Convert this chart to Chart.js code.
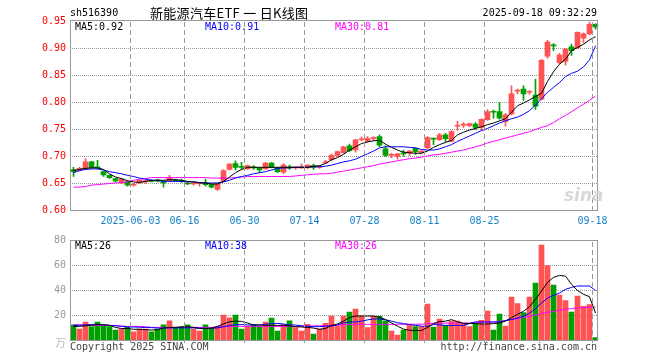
<!DOCTYPE html>
<html>
<head>
<meta charset="utf-8">
<script src="https://cdn.jsdelivr.net/npm/chart.js@4.4.1/dist/chart.umd.min.js"></script>
<style>
body { margin: 0; background: #fff; }
#wrap { position: relative; width: 660px; height: 360px; overflow: hidden; font-family: 'DejaVu Sans Mono', monospace; font-size: 10px; }
canvas { position: absolute; left: 0; }
.t { position: absolute; white-space: pre; line-height: 12px; }
</style>
</head>
<body>
<div id="wrap">
  <canvas id="kline" width="660" height="230" style="top:0"></canvas>
  <canvas id="vol" width="660" height="130" style="top:230px"></canvas>
  <div class="t" style="left:70px;top:7px">sh516390</div>
  <div class="t" style="left:150px;top:5px;font-family:'Noto Sans CJK SC';font-size:13px;line-height:15px;letter-spacing:0.3px">新能源汽车ETF 一 日K线图</div>
  <div class="t" style="right:63px;top:7px">2025-09-18 09:32:29</div>
  <div class="t" style="left:75px;top:21px">MA5:0.92</div>
  <div class="t" style="left:205px;top:21px;color:#0000ff">MA10:0.91</div>
  <div class="t" style="left:335px;top:21px;color:#ff00ff">MA30:0.81</div>
  <div class="t" style="left:75px;top:240px">MA5:26</div>
  <div class="t" style="left:205px;top:240px;color:#0000ff">MA10:38</div>
  <div class="t" style="left:335px;top:240px;color:#ff00ff">MA30:26</div>
  <div class="t" style="right:594px;top:336px;color:#bbb;font-family:'Noto Sans CJK SC';font-size:11px">万</div>
  <div class="t" style="left:70px;top:341px;color:#444">Copyright 2025 SINA.COM</div>
  <div class="t" style="right:63px;top:341px;color:#444">http://finance.sina.com.cn</div>
  <div class="t" style="left:564px;top:185px;color:#d8d8d8;font-family:'DejaVu Sans';font-size:17px;font-weight:bold;font-style:italic;line-height:20px">sina</div>
</div>
<script>
const dates = ['2025-05-19','2025-05-20','2025-05-21','2025-05-22','2025-05-23','2025-05-26','2025-05-27','2025-05-28','2025-05-29','2025-05-30',
  '2025-06-03','2025-06-04','2025-06-05','2025-06-06','2025-06-09','2025-06-10','2025-06-11','2025-06-12','2025-06-13','2025-06-16',
  '2025-06-17','2025-06-18','2025-06-19','2025-06-20','2025-06-23','2025-06-24','2025-06-25','2025-06-26','2025-06-27','2025-06-30',
  '2025-07-01','2025-07-02','2025-07-03','2025-07-04','2025-07-07','2025-07-08','2025-07-09','2025-07-10','2025-07-11','2025-07-14',
  '2025-07-15','2025-07-16','2025-07-17','2025-07-18','2025-07-21','2025-07-22','2025-07-23','2025-07-24','2025-07-25','2025-07-28',
  '2025-07-29','2025-07-30','2025-07-31','2025-08-01','2025-08-04','2025-08-05','2025-08-06','2025-08-07','2025-08-08','2025-08-11',
  '2025-08-12','2025-08-13','2025-08-14','2025-08-15','2025-08-18','2025-08-19','2025-08-20','2025-08-21','2025-08-22','2025-08-25',
  '2025-08-26','2025-08-27','2025-08-28','2025-08-29','2025-09-01','2025-09-02','2025-09-03','2025-09-04','2025-09-05','2025-09-08',
  '2025-09-09','2025-09-10','2025-09-11','2025-09-12','2025-09-15','2025-09-16','2025-09-17','2025-09-18'];

const tickDates = ['2025-06-03','2025-06-16','2025-06-30','2025-07-14','2025-07-28','2025-08-11','2025-08-25','2025-09-18'];
const tickLabels = ['2025-06-03','06-16','06-30','07-14','07-28','08-11','08-25','09-18'];
const priceTicks = [0.60, 0.65, 0.70, 0.75, 0.80, 0.85, 0.90, 0.95];
const volTicks = [0, 20, 40, 60, 80];

const opens = [.676,.675,.678,.690,.681,.672,.665,.659,.651,.653,
  .647,.651,.653,.656,.656,.654,.655,.657,.656,.651,
  .649,.650,.651,.648,.639,.654,.676,.687,.681,.677,
  .680,.679,.677,.688,.679,.671,.680,.679,.679,.679,
  .683,.680,.688,.694,.702,.707,.720,.712,.731,.728,
  .733,.737,.714,.702,.700,.706,.706,.715,.707,.716,
  .734,.731,.740,.728,.756,.758,.757,.760,.754,.768,
  .783,.783,.765,.779,.821,.825,.819,.814,.806,.886,
  .906,.874,.876,.903,.901,.919,.927,.945];
const closes = [.672,.678,.690,.680,.679,.666,.661,.655,.658,.647,
  .648,.656,.654,.654,.655,.651,.661,.655,.654,.649,
  .650,.651,.648,.643,.650,.674,.686,.680,.680,.683,
  .679,.675,.688,.680,.672,.684,.679,.680,.680,.684,
  .680,.681,.690,.702,.709,.718,.711,.731,.732,.733,
  .734,.721,.702,.703,.705,.705,.710,.709,.710,.735,
  .732,.740,.733,.746,.757,.759,.761,.754,.769,.783,
  .782,.771,.777,.816,.822,.816,.820,.793,.878,.912,
  .905,.888,.899,.896,.930,.927,.945,.940];
const highs = [.680,.680,.696,.691,.693,.673,.666,.660,.660,.655,
  .650,.657,.656,.657,.658,.656,.665,.658,.658,.652,
  .652,.652,.658,.649,.651,.676,.687,.692,.689,.684,
  .683,.680,.689,.689,.680,.687,.684,.681,.686,.685,
  .686,.683,.693,.705,.710,.719,.723,.732,.736,.737,
  .737,.740,.720,.706,.706,.712,.711,.716,.711,.737,
  .734,.743,.743,.748,.765,.763,.762,.763,.770,.787,
  .786,.800,.780,.831,.825,.831,.822,.843,.880,.915,
  .909,.891,.900,.908,.931,.929,.949,.946];
const lows = [.663,.673,.677,.678,.677,.663,.659,.653,.650,.645,
  .645,.650,.650,.653,.653,.643,.654,.654,.652,.648,
  .647,.645,.645,.642,.637,.653,.675,.675,.676,.676,
  .676,.670,.676,.679,.670,.668,.676,.676,.678,.678,
  .676,.678,.687,.692,.700,.706,.709,.708,.729,.727,
  .730,.718,.700,.698,.695,.700,.702,.704,.706,.715,
  .722,.730,.727,.727,.749,.754,.755,.750,.749,.767,
  .771,.769,.756,.777,.816,.804,.815,.787,.805,.882,
  .896,.872,.869,.887,.900,.911,.925,.936];

const ma5 = [.674,.676,.678,.679,.679,.676,.668,.662,.659,.655,
  .653,.652,.654,.656,.656,.656,.657,.657,.656,.654,
  .653,.651,.651,.649,.649,.654,.662,.670,.676,.680,
  .680,.680,.680,.680,.680,.680,.680,.680,.680,.680,
  .682,.683,.687,.694,.698,.704,.712,.718,.724,.727,
  .729,.730,.723,.717,.712,.708,.707,.706,.706,.710,
  .717,.722,.726,.730,.740,.745,.749,.752,.755,.759,
  .762,.766,.770,.782,.794,.799,.805,.811,.817,.839,
  .857,.871,.880,.896,.902,.908,.916,.922];
const ma10 = [.670,.674,.676,.677,.677,.675,.672,.670,.668,.665,
  .663,.660,.658,.656,.655,.654,.654,.654,.654,.653,
  .653,.652,.651,.651,.651,.653,.656,.660,.663,.665,
  .668,.670,.672,.675,.678,.679,.679,.680,.680,.680,
  .681,.681,.682,.684,.687,.690,.692,.695,.700,.705,
  .710,.716,.718,.718,.718,.718,.717,.716,.713,.712,
  .712,.714,.718,.722,.728,.733,.738,.743,.748,.752,
  .757,.762,.766,.770,.773,.778,.785,.795,.807,.819,
  .828,.837,.848,.854,.858,.866,.879,.905];
const ma30 = [.6433,.6433,.6445,.647,.648,.649,.650,.651,.652,.653,
  .656,.658,.659,.661,.661,.661,.661,.661,.661,.661,
  .661,.661,.661,.660,.660,.660,.660,.661,.662,.663,
  .663,.663,.663,.663,.663,.663,.663,.664,.665,.666,
  .667,.668,.668,.669,.671,.673,.675,.677,.679,.681,
  .683,.686,.688,.690,.692,.694,.696,.697,.699,.701,
  .703,.704,.706,.708,.710,.712,.715,.718,.721,.725,
  .728,.731,.734,.737,.740,.743,.746,.750,.754,.757,
  .763,.770,.776,.783,.790,.797,.804,.812];

const volume = [12.5,9.2,14.8,11.1,14.8,12.0,11.1,8.4,9.2,11.1,
  7.0,9.2,9.2,7.0,9.2,12.5,15.8,10.3,11.1,12.5,
  9.2,7.6,12.5,10.3,11.2,20.4,18.2,20.4,9.2,11.5,
  12.7,11.1,14.8,18.0,7.6,12.7,15.8,10.3,7.6,13.0,
  5.2,9.2,13.7,19.6,11.6,19.6,22.8,25.2,19.6,10.3,
  19.3,19.3,15.6,7.6,4.4,8.4,12.1,11.1,11.1,29.2,
  10.8,17.2,12.1,15.6,15.6,13.7,11.1,13.7,16.1,23.6,
  8.4,21.2,11.6,34.8,29.5,22.3,34.8,46.0,76.4,59.9,
  44.4,36.4,31.9,22.8,35.6,27.3,28.7,2.3];
const volMa5 = [11.3,11.3,11.8,12.3,12.7,12.7,12.2,10.5,9.6,9.6,
  9.0,9.0,8.7,8.4,8.6,10.0,10.5,10.5,10.8,11.1,
  10.5,9.6,9.6,9.8,11.3,13.3,15.0,15.5,15.3,14.0,
  12.4,12.4,12.2,12.1,12.1,12.1,11.6,11.1,10.8,10.5,
  10.0,9.0,9.6,12.1,13.2,15.5,18.3,19.6,19.6,19.6,
  19.6,18.5,16.8,14.0,11.5,9.1,8.2,8.0,8.0,10.5,
  13.5,15.1,15.5,16.7,15.0,13.8,13.7,13.5,13.2,13.2,
  13.5,14.0,15.5,18.3,20.9,23.4,27.0,33.0,39.5,46.5,
  50.5,52.1,51.5,45.0,40.0,37.0,35.0,22.0];
const volMa10 = [12.0,12.2,12.5,12.8,12.9,12.5,12.0,11.8,11.3,10.8,
  10.8,10.6,10.4,10.3,10.0,9.8,10.1,10.1,10.1,10.1,
  10.1,10.0,9.7,9.8,10.1,11.0,12.0,12.7,12.7,12.5,
  12.4,12.4,13.0,13.5,13.7,13.2,12.5,12.4,11.8,11.3,
  11.1,11.1,11.5,11.6,12.5,14.0,14.8,14.8,15.5,16.5,
  17.2,17.2,16.5,15.5,14.3,13.5,12.8,12.1,11.5,11.3,
  12.8,12.5,12.1,12.1,12.1,12.1,13.5,14.8,14.8,14.8,
  14.8,14.8,16.0,16.8,18.0,19.5,21.7,25.5,30.0,34.0,
  36.1,38.0,40.9,42.5,43.6,43.6,43.6,40.0];
const volMa30 = [12.7,12.5,12.3,12.1,12.1,12.1,12.1,12.1,11.6,11.3,
  11.3,11.3,11.0,10.5,10.5,10.5,10.5,10.5,10.5,10.5,
  10.5,10.5,10.5,10.5,10.8,11.3,11.3,11.3,11.3,11.3,
  11.3,11.3,11.3,11.3,11.3,11.3,11.3,11.3,11.4,11.5,
  11.7,11.8,12.0,12.1,12.3,12.5,12.7,12.9,12.9,12.9,
  12.9,12.9,12.9,12.9,13.0,13.0,13.0,13.0,13.0,13.5,
  13.9,13.9,13.9,13.9,13.9,13.9,13.9,14.8,14.8,14.8,
  14.8,15.3,16.0,16.8,17.5,18.3,19.3,20.5,21.5,22.5,
  23.3,24.2,25.0,25.5,26.0,26.3,26.7,26.8];

const RED = '#ff5353';
const GREEN = '#00a000';
const GRID = '#999999';
const candleColors = closes.map((c, i) => c >= opens[i] ? RED : GREEN);
const monoFont = { family: 'DejaVu Sans Mono', size: 10 };

// dotted value lines under the marks, dashed date lines drawn at the end
const gridLines = {
  id: 'gridLines',
  beforeDatasetsDraw(chart, args, opts) {
    const ctx = chart.ctx;
    const ys = chart.scales.y;
    ctx.save();
    ctx.fillStyle = GRID;
    opts.values.forEach(v => {
      const y = Math.floor(ys.getPixelForValue(v));
      for (let x = 72; x < 597; x += 2) ctx.fillRect(x, y, 1, 1);
    });
    ctx.restore();
  },
  afterDraw(chart) {
    const ctx = chart.ctx, a = chart.chartArea;
    const xs = chart.scales.x;
    const top = Math.ceil(a.top), bottom = Math.floor(a.bottom);
    ctx.save();
    ctx.fillStyle = GRID;
    for (let k = 0; k < tickDates.length; k++) {
      const i = dates.indexOf(tickDates[k]);
      const x = Math.floor(xs.getPixelForValue(i) - 3);
      for (let y = top + 1; y < bottom; y += 8) {
        ctx.fillRect(x, y, 1, 5);
      }
    }
    ctx.restore();
  }
};

// gray frame around each plot
const frame = {
  id: 'frame',
  afterDraw(chart) {
    const ctx = chart.ctx, a = chart.chartArea;
    ctx.save();
    ctx.strokeStyle = GRID;
    ctx.lineWidth = 1;
    ctx.strokeRect(70.5, a.top, 527, a.bottom - a.top);
    ctx.restore();
  }
};

function xAxis(showLabels) {
  return {
    type: 'category',
    offset: true,
    grid: { display: false, drawTicks: false },
    border: { display: false },
    ticks: {
      display: showLabels,
      autoSkip: false,
      maxRotation: 0,
      padding: 5,
      labelOffset: -3,
      color: '#1580c8',
      font: monoFont,
      callback: (v, i) => {
        const k = tickDates.indexOf(dates[i]);
        return k >= 0 ? tickLabels[k] : '';
      }
    },
    afterFit: s => { s.height = 19.5; }
  };
}

function line(data, color) {
  return { type: 'line', data: data, borderColor: color, borderWidth: 1, pointRadius: 0, tension: 0, order: 0 };
}

new Chart(document.getElementById('kline'), {
  type: 'bar',
  data: {
    labels: dates,
    datasets: [
      line(ma5, '#000000'),
      line(ma10, '#0000ff'),
      line(ma30, '#ff00ff'),
      {
        type: 'bar',
        data: opens.map((o, i) => [o, closes[i]]),
        backgroundColor: candleColors,
        barThickness: 5,
        minBarLength: 1,
        grouped: false,
        order: 1
      },
      {
        type: 'bar',
        data: lows.map((l, i) => [l, highs[i]]),
        backgroundColor: candleColors,
        barThickness: 1,
        grouped: false,
        order: 2
      }
    ]
  },
  options: {
    responsive: false,
    animation: false,
    layout: { padding: { left: 0, top: 20.5, right: 61.5, bottom: 0 } },
    plugins: {
      legend: { display: false },
      tooltip: { enabled: false },
      gridLines: { values: priceTicks.slice(1, -1) }
    },
    scales: {
      x: xAxis(true),
      y: {
        min: 0.60,
        max: 0.9519,
        afterBuildTicks: s => { s.ticks = priceTicks.map(v => ({ value: v })); },
        afterFit: s => { s.width = 70.5; },
        grid: { display: false, drawTicks: false },
        border: { display: false },
        ticks: { padding: 4.5, color: '#ff0000', font: monoFont, callback: v => v.toFixed(2) }
      }
    }
  },
  plugins: [gridLines, frame]
});

new Chart(document.getElementById('vol'), {
  type: 'bar',
  data: {
    labels: dates,
    datasets: [
      line(volMa5, '#000000'),
      line(volMa10, '#0000ff'),
      line(volMa30, '#ff00ff'),
      {
        type: 'bar',
        data: volume,
        backgroundColor: candleColors,
        barThickness: 5,
        grouped: false,
        order: 1
      }
    ]
  },
  options: {
    responsive: false,
    animation: false,
    layout: { padding: { left: 0, top: 10.5, right: 61.5, bottom: 0 } },
    plugins: {
      legend: { display: false },
      tooltip: { enabled: false },
      gridLines: { values: volTicks.slice(1, -1) }
    },
    scales: {
      x: xAxis(false),
      y: {
        min: 0,
        max: 80,
        afterBuildTicks: s => { s.ticks = volTicks.map(v => ({ value: v })); },
        afterFit: s => { s.width = 70.5; },
        grid: { display: false, drawTicks: false },
        border: { display: false },
        ticks: { padding: 4.5, color: '#999', font: monoFont, callback: v => v === 0 ? '' : v }
      }
    }
  },
  plugins: [gridLines, frame]
});
</script>
</body>
</html>
